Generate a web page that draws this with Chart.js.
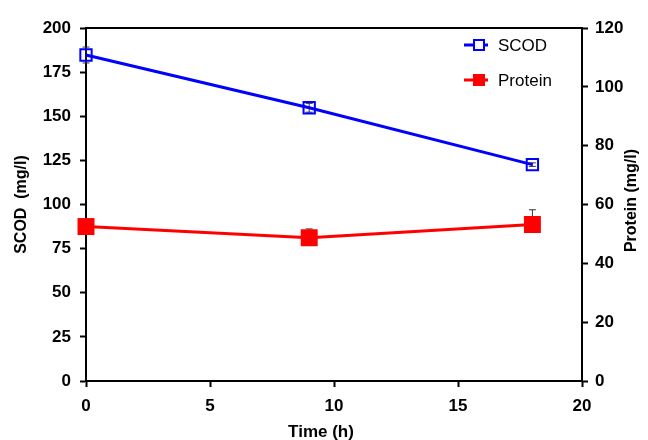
<!DOCTYPE html>
<html>
<head>
<meta charset="utf-8">
<script src="https://cdn.jsdelivr.net/npm/chart.js@4/dist/chart.umd.min.js"></script>
<style>
html,body{margin:0;padding:0;background:#fff;}
#wrap{width:648px;height:440px;position:relative;}
</style>
</head>
<body>
<div id="wrap"><canvas id="c" width="648" height="440"></canvas></div>
<script>
const times = [0, 9, 18];
const scod = [184.7, 154.8, 122.6];
const scodErr = [4.5, 2.5, 1];
const protein = [52.5, 48.7, 53.2];
const proteinErr = [1, 3, 5];
const xTicks = [0, 5, 10, 15, 20];
const leftTicks = [0, 25, 50, 75, 100, 125, 150, 175, 200];
const rightTicks = [0, 20, 40, 60, 80, 100, 120];
const seriesNames = ['SCOD', 'Protein'];
const axisTitles = {x: 'Time (h)', yLeft: 'SCOD  (mg/l)', yRight: 'Protein (mg/l)'};

const FONT = "'Liberation Sans', Arial, sans-serif";
const BLUE = '#0000ff';
const RED = '#ff0000';

const errorBars = {
  id: 'errorBars',
  beforeDatasetsDraw(chart) {
    const ctx = chart.ctx;
    const xs = chart.scales.x;
    const sets = [
      {vals: scod, err: scodErr, axis: chart.scales.y, both: true},
      {vals: protein, err: proteinErr, axis: chart.scales.y2, both: false}
    ];
    ctx.save();
    ctx.strokeStyle = '#333';
    ctx.lineWidth = 1;
    sets.forEach(s => {
      times.forEach((t, i) => {
        const px = xs.getPixelForValue(t);
        const mid = s.axis.getPixelForValue(s.vals[i]);
        const top = s.axis.getPixelForValue(s.vals[i] + s.err[i]);
        const bot = s.both ? s.axis.getPixelForValue(s.vals[i] - s.err[i]) : mid;
        ctx.beginPath();
        ctx.moveTo(px, top); ctx.lineTo(px, bot);
        ctx.moveTo(px - 3.5, top); ctx.lineTo(px + 3.5, top);
        if (s.both) { ctx.moveTo(px - 3.5, bot); ctx.lineTo(px + 3.5, bot); }
        ctx.stroke();
      });
    });
    ctx.restore();
  }
};

const decor = {
  id: 'decor',
  afterDraw(chart) {
    const ctx = chart.ctx;
    const a = chart.chartArea;
    ctx.save();
    ctx.strokeStyle = '#000';
    ctx.lineWidth = 2;
    ctx.beginPath();
    ctx.moveTo(a.left - 1, a.top);
    ctx.lineTo(a.right + 1, a.top);
    ctx.stroke();
    ctx.fillStyle = '#000';
    ctx.font = 'bold 17px ' + FONT;
    ctx.textAlign = 'center';
    ctx.textBaseline = 'middle';
    ctx.fillText(axisTitles.x, 321, 432);
    ctx.font = 'bold 16px ' + FONT;
    ctx.translate(632, (a.top + a.bottom) / 2 - 4);
    ctx.rotate(-Math.PI / 2);
    ctx.fillText(axisTitles.yRight, 0, 0);
    ctx.restore();
    ctx.save();
    const items = [
      {name: seriesNames[0], color: BLUE, fill: false, y: 45},
      {name: seriesNames[1], color: RED, fill: true, y: 80}
    ];
    items.forEach(it => {
      ctx.strokeStyle = it.color;
      ctx.lineWidth = 3;
      ctx.beginPath();
      ctx.moveTo(464, it.y); ctx.lineTo(488, it.y);
      ctx.stroke();
      if (it.fill) {
        ctx.fillStyle = it.color;
        ctx.fillRect(473, it.y - 6, 12, 12);
      } else {
        ctx.fillStyle = '#fff';
        ctx.fillRect(474, it.y - 5, 10, 10);
        ctx.lineWidth = 2;
        ctx.strokeRect(474, it.y - 5, 10, 10);
      }
      ctx.fillStyle = '#000';
      ctx.font = '17px ' + FONT;
      ctx.textAlign = 'left';
      ctx.textBaseline = 'middle';
      ctx.fillText(it.name, 498, it.y + 1);
    });
    ctx.restore();
  }
};

const axisCommon = {
  grid: {drawOnChartArea: false, drawTicks: true, tickLength: 6, tickColor: '#000', tickWidth: 2},
  border: {color: '#000', width: 2},
};
const tickFont = {family: FONT, size: 17, weight: 'bold'};

new Chart(document.getElementById('c'), {
  type: 'line',
  data: {
    datasets: [
      {
        label: seriesNames[0],
        data: times.map((t, i) => ({x: t, y: scod[i]})),
        yAxisID: 'y',
        borderColor: BLUE,
        backgroundColor: 'rgba(255,255,255,0)',
        borderWidth: 3,
        pointStyle: 'rect',
        pointRadius: 8,
        pointBorderWidth: 2,
        pointBorderColor: BLUE,
        pointBackgroundColor: 'rgba(255,255,255,0)',
        tension: 0,
        clip: false
      },
      {
        label: seriesNames[1],
        data: times.map((t, i) => ({x: t, y: protein[i]})),
        yAxisID: 'y2',
        borderColor: RED,
        backgroundColor: RED,
        borderWidth: 3,
        pointStyle: 'rect',
        pointRadius: 12,
        pointBorderWidth: 0,
        pointBackgroundColor: RED,
        tension: 0,
        clip: false
      }
    ]
  },
  options: {
    responsive: false,
    animation: false,
    events: [],
    layout: {padding: {top: 28, left: 0, right: 0, bottom: 0}},
    plugins: {legend: {display: false}, tooltip: {enabled: false}},
    scales: {
      x: {
        ...axisCommon,
        type: 'linear',
        min: 0, max: 20,
        afterBuildTicks: s => { s.ticks = xTicks.map(v => ({value: v})); },
        ticks: {color: '#000', font: tickFont, padding: 9, maxRotation: 0},
        title: {display: false},
        afterFit: s => { s.height = 59; }
      },
      y: {
        ...axisCommon,
        position: 'left',
        min: 0, max: 200,
        afterBuildTicks: s => { s.ticks = leftTicks.map(v => ({value: v})); },
        ticks: {color: '#000', font: tickFont, padding: 9},
        title: {display: true, text: axisTitles.yLeft, color: '#000', font: {family: FONT, size: 16, weight: 'bold'}, padding: {top: 12, bottom: 0}},
        afterFit: s => { s.width = 86; }
      },
      y2: {
        ...axisCommon,
        position: 'right',
        min: 0, max: 120,
        afterBuildTicks: s => { s.ticks = rightTicks.map(v => ({value: v})); },
        ticks: {color: '#000', font: tickFont, padding: 7},
        afterFit: s => { s.width = 66; }
      }
    }
  },
  plugins: [errorBars, decor]
});
</script>
</body>
</html>
